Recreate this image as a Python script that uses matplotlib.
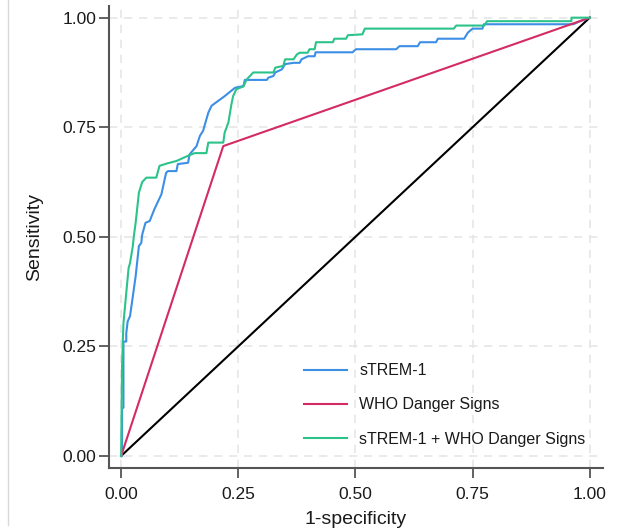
import matplotlib
matplotlib.use("Agg")
import matplotlib.pyplot as plt
from matplotlib.lines import Line2D

plt.rcParams['font.family'] = ['Liberation Sans', 'DejaVu Sans']

# ROC vertices (1-specificity, sensitivity)
strem_fpr = [0, 0.002, 0.002, 0.005, 0.005, 0.011, 0.011, 0.014, 0.019, 0.025, 0.031, 0.038,
             0.043, 0.045, 0.052, 0.061, 0.071, 0.086, 0.096, 0.1, 0.118, 0.121, 0.143, 0.146,
             0.161, 0.168, 0.175, 0.186, 0.193, 0.207, 0.221, 0.243, 0.261, 0.264, 0.311, 0.314,
             0.325, 0.329, 0.343, 0.35, 0.368, 0.381, 0.385, 0.399, 0.413, 0.415, 0.494, 0.501,
             0.587, 0.594, 0.633, 0.638, 0.672, 0.676, 0.732, 0.74, 0.75, 0.771, 0.774, 0.965,
             0.975, 1.0]
strem_tpr = [0, 0.0, 0.109, 0.11, 0.261, 0.261, 0.28, 0.307, 0.319, 0.364, 0.41, 0.479,
             0.486, 0.505, 0.532, 0.536, 0.563, 0.597, 0.646, 0.65, 0.65, 0.666, 0.669, 0.688,
             0.707, 0.73, 0.742, 0.783, 0.799, 0.81, 0.821, 0.84, 0.844, 0.858, 0.858, 0.863,
             0.867, 0.875, 0.882, 0.894, 0.897, 0.897, 0.905, 0.912, 0.912, 0.921, 0.921, 0.928,
             0.928, 0.935, 0.935, 0.944, 0.944, 0.952, 0.952, 0.966, 0.975, 0.975, 0.985, 0.985,
             0.99, 1.0]

who_fpr = [0, 0.218, 1.0]
who_tpr = [0, 0.707, 1.0]

combo_fpr = [0, 0.002, 0.004, 0.005, 0.011, 0.016, 0.019, 0.025, 0.027, 0.031, 0.038, 0.045,
             0.054, 0.075, 0.082, 0.1, 0.118, 0.143, 0.157, 0.182, 0.186, 0.218, 0.221, 0.229,
             0.235, 0.239, 0.246, 0.261, 0.268, 0.282, 0.325, 0.329, 0.346, 0.35, 0.368, 0.375,
             0.381, 0.398, 0.402, 0.413, 0.416, 0.452, 0.455, 0.48, 0.484, 0.515, 0.52, 0.71,
             0.715, 0.775, 0.781, 0.961, 0.961, 1.0]
combo_tpr = [0, 0.204, 0.273, 0.303, 0.372, 0.429, 0.44, 0.479, 0.5, 0.532, 0.601, 0.625,
             0.635, 0.635, 0.662, 0.668, 0.673, 0.685, 0.691, 0.691, 0.715, 0.715, 0.738, 0.761,
             0.8, 0.821, 0.837, 0.843, 0.859, 0.875, 0.875, 0.886, 0.89, 0.905, 0.905, 0.916,
             0.92, 0.92, 0.928, 0.928, 0.944, 0.944, 0.952, 0.952, 0.96, 0.962, 0.975, 0.975,
             0.982, 0.982, 0.992, 0.992, 1.0, 1.0]

ticks = [0, 0.25, 0.5, 0.75, 1.0]
tick_labels = ['0.00', '0.25', '0.50', '0.75', '1.00']

fig = plt.figure(figsize=(6.26, 5.31), dpi=100)
ax = fig.add_axes([0.174, 0.119, 0.789, 0.870])

ax.plot(strem_fpr, strem_tpr, color='#3d8fe6', lw=1.5, label='sTREM-1', zorder=3)
ax.plot(who_fpr, who_tpr, color='#d42b62', lw=1.5, label='WHO Danger Signs', zorder=3)
ax.plot(combo_fpr, combo_tpr, color='#2cc38a', lw=1.5, label='sTREM-1 + WHO Danger Signs', zorder=3)
ax.plot([0, 1], [0, 1], color='black', lw=1.5, zorder=2)

ax.set_xlim(-0.026, 1.028)
ax.set_ylim(-0.027, 1.027)
ax.set_xticks(ticks)
ax.set_xticklabels(tick_labels)
ax.set_yticks(ticks)
ax.set_yticklabels(tick_labels)
ax.grid(True, color='#e6e6e6', lw=1.2, linestyle=(0, (5, 4)))
ax.set_axisbelow(True)

for s in ['top', 'right']:
    ax.spines[s].set_visible(False)
for s in ['left', 'bottom']:
    ax.spines[s].set_color('#555555')
    ax.spines[s].set_linewidth(1.5)
ax.tick_params(axis='both', direction='out', length=7, width=1.3, color='#555555',
               labelsize=12.5, labelcolor='#1a1a1a')
ax.tick_params(axis='x', pad=7)
ax.tick_params(axis='y', pad=2)

ax.set_xlabel('1-specificity', fontsize=14, color='#1a1a1a', labelpad=6)
ax.set_ylabel('Sensitivity', fontsize=14, color='#1a1a1a', labelpad=14)

ax.legend(loc='lower left', bbox_to_anchor=(0.365, 0.015), frameon=False, fontsize=11.5,
          handlelength=2.7, handletextpad=0.8, labelspacing=1.2, labelcolor='#1a1a1a')

# faint border of the original screenshot on the far left
fig.add_artist(Line2D([8 / 626, 8 / 626], [0.012, 1.0], color='#d8d8d8', lw=1.0))

fig.savefig('out.png', dpi=100)
